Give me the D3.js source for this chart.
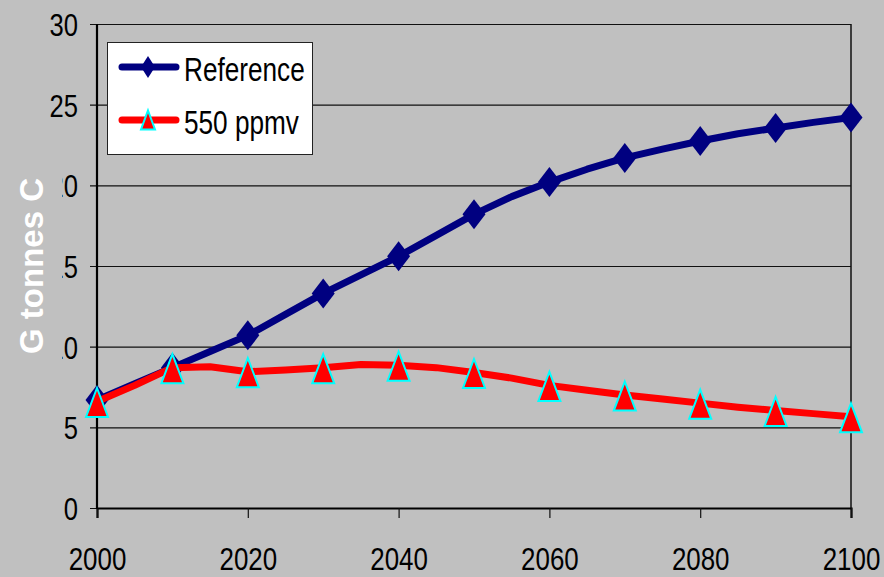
<!DOCTYPE html>
<html>
<head>
<meta charset="utf-8">
<script src="https://cdn.jsdelivr.net/npm/d3@7"></script>
<style>
  html, body { margin: 0; padding: 0; background: #c0c0c0; }
  svg { display: block; }
  text { font-family: "Liberation Sans", Arial, sans-serif; }
</style>
</head>
<body>
<svg id="chart" width="884" height="577"></svg>
<script>
// Carbon emissions, G tonnes C, reference scenario vs 550 ppmv stabilisation
const lineYears = [2000, 2005, 2010, 2015, 2020, 2025, 2030, 2035, 2040, 2045, 2050,
                   2055, 2060, 2065, 2070, 2075, 2080, 2085, 2090, 2095, 2100];
const referenceValues = [6.7, 7.7, 8.7, 9.7, 10.7, 12.0, 13.3, 14.45, 15.6, 16.9, 18.2,
                         19.3, 20.2, 21.0, 21.7, 22.25, 22.75, 23.2, 23.55, 23.9, 24.2];
const ppmv550Values = [6.6, 7.6, 8.7, 8.75, 8.45, 8.55, 8.7, 8.9, 8.85, 8.7, 8.4,
                       8.05, 7.6, 7.3, 7.0, 6.75, 6.5, 6.25, 6.05, 5.85, 5.65];
const markerYears = [2000, 2010, 2020, 2030, 2040, 2050, 2060, 2070, 2080, 2090, 2100];
const xTicks = [2000, 2020, 2040, 2060, 2080, 2100];
const yTicks = [0, 5, 10, 15, 20, 25, 30];
const seriesNames = ["Reference", "550 ppmv"];
const yTitle = "G tonnes C";

const svg = d3.select("#chart");
const plotLeft = 97, plotRight = 851, plotTop = 24, plotBottom = 508;

const x = d3.scaleLinear().domain([2000, 2100]).range([plotLeft, plotRight]);
const y = d3.scaleLinear().domain([0, 30]).range([plotBottom, plotTop]);

svg.append("rect").attr("width", 884).attr("height", 577).attr("fill", "#c0c0c0");

// Horizontal gridlines with tick marks on the left
const yAxis = d3.axisLeft(y).tickValues(yTicks).tickSize(-(plotRight - plotLeft)).tickFormat("");
const gy = svg.append("g").attr("transform", `translate(${plotLeft},0)`).call(yAxis);
gy.select(".domain").remove();
gy.selectAll(".tick line").attr("stroke", "#111").attr("stroke-width", 1.2).attr("x1", -7);

// Y tick labels (narrow face)
gy.selectAll(".tick").append("text")
  .attr("transform", "translate(-19,11.5) scale(0.8,1)")
  .attr("text-anchor", "end")
  .attr("fill", "#000")
  .attr("font-size", 32)
  .text(d => d);

// Right border of the plot area
svg.append("line").attr("x1", plotRight).attr("x2", plotRight).attr("y1", plotTop).attr("y2", plotBottom)
  .attr("stroke", "#111").attr("stroke-width", 1.5);

// X axis
const xAxis = d3.axisBottom(x).tickValues(xTicks).tickSize(10).tickFormat("");
const gx = svg.append("g").attr("transform", `translate(0,${plotBottom})`).call(xAxis);
gx.select(".domain").attr("stroke", "#000").attr("stroke-width", 2.2);
gx.selectAll(".tick line").attr("stroke", "#111").attr("stroke-width", 1.2);
gx.selectAll(".tick").append("text")
  .attr("transform", "translate(0,62) scale(0.81,1)")
  .attr("text-anchor", "middle")
  .attr("fill", "#000")
  .attr("font-size", 32)
  .text(d => d);

// Left axis line
svg.append("line").attr("x1", plotLeft).attr("x2", plotLeft).attr("y1", plotTop).attr("y2", plotBottom + 1)
  .attr("stroke", "#000").attr("stroke-width", 2.2);

// Axis title on its own grey panel
svg.append("rect").attr("x", 4).attr("y", 163).attr("width", 58).attr("height", 205)
  .attr("fill", "#c0c0c0");
svg.append("text")
  .attr("transform", "translate(43,266) rotate(-90)")
  .attr("text-anchor", "middle")
  .attr("font-size", 33)
  .attr("font-weight", "bold")
  .attr("fill", "#fff")
  .text(yTitle);

// Series
const line = d3.line().x(d => x(d.year)).y(d => y(d.value)).curve(d3.curveLinear);
const refData = lineYears.map((yr, i) => ({ year: yr, value: referenceValues[i] }));
const ppmData = lineYears.map((yr, i) => ({ year: yr, value: ppmv550Values[i] }));

const diamond = (w, h) => `M0,${-h / 2}L${w / 2},0L0,${h / 2}L${-w / 2},0Z`;
const triangle = (w, h) => `M0,${-h / 2}L${w / 2},${h / 2}L${-w / 2},${h / 2}Z`;

svg.append("path").datum(refData).attr("d", line)
  .attr("fill", "none").attr("stroke", "#000080").attr("stroke-width", 7)
  .attr("stroke-linejoin", "round").attr("stroke-linecap", "round");
svg.append("g").selectAll("path")
  .data(refData.filter(d => markerYears.includes(d.year)))
  .join("path")
  .attr("transform", d => `translate(${x(d.year)},${y(d.value)})`)
  .attr("d", diamond(23, 30))
  .attr("fill", "#000080");

svg.append("path").datum(ppmData).attr("d", line)
  .attr("fill", "none").attr("stroke", "#ff0000").attr("stroke-width", 7)
  .attr("stroke-linejoin", "round").attr("stroke-linecap", "round");
svg.append("g").selectAll("path")
  .data(ppmData.filter(d => markerYears.includes(d.year)))
  .join("path")
  .attr("transform", d => `translate(${x(d.year)},${y(d.value) + 1})`)
  .attr("d", triangle(22, 29))
  .attr("fill", "#ff0000").attr("stroke", "#00ffff").attr("stroke-width", 2)
  .attr("stroke-linejoin", "miter");

// Legend
const lg = svg.append("g");
lg.append("rect").attr("x", 107.5).attr("y", 42.5).attr("width", 205).attr("height", 112)
  .attr("fill", "#fff").attr("stroke", "#222").attr("stroke-width", 1);
const legendRows = [
  { name: seriesNames[0], color: "#000080", cy: 67, marker: "diamond" },
  { name: seriesNames[1], color: "#ff0000", cy: 120, marker: "triangle" }
];
legendRows.forEach(r => {
  lg.append("line").attr("x1", 122).attr("x2", 176).attr("y1", r.cy).attr("y2", r.cy)
    .attr("stroke", r.color).attr("stroke-width", 7).attr("stroke-linecap", "round");
  if (r.marker === "diamond") {
    lg.append("path").attr("transform", `translate(148,${r.cy})`).attr("d", diamond(14, 22))
      .attr("fill", r.color);
  } else {
    lg.append("path").attr("transform", `translate(148,${r.cy})`).attr("d", triangle(14, 19))
      .attr("fill", r.color).attr("stroke", "#00ffff").attr("stroke-width", 2);
  }
  lg.append("text")
    .attr("transform", `translate(184,${r.cy + 14}) scale(0.77,1)`)
    .attr("font-size", 34)
    .attr("fill", "#000")
    .text(r.name);
});
</script>
</body>
</html>
